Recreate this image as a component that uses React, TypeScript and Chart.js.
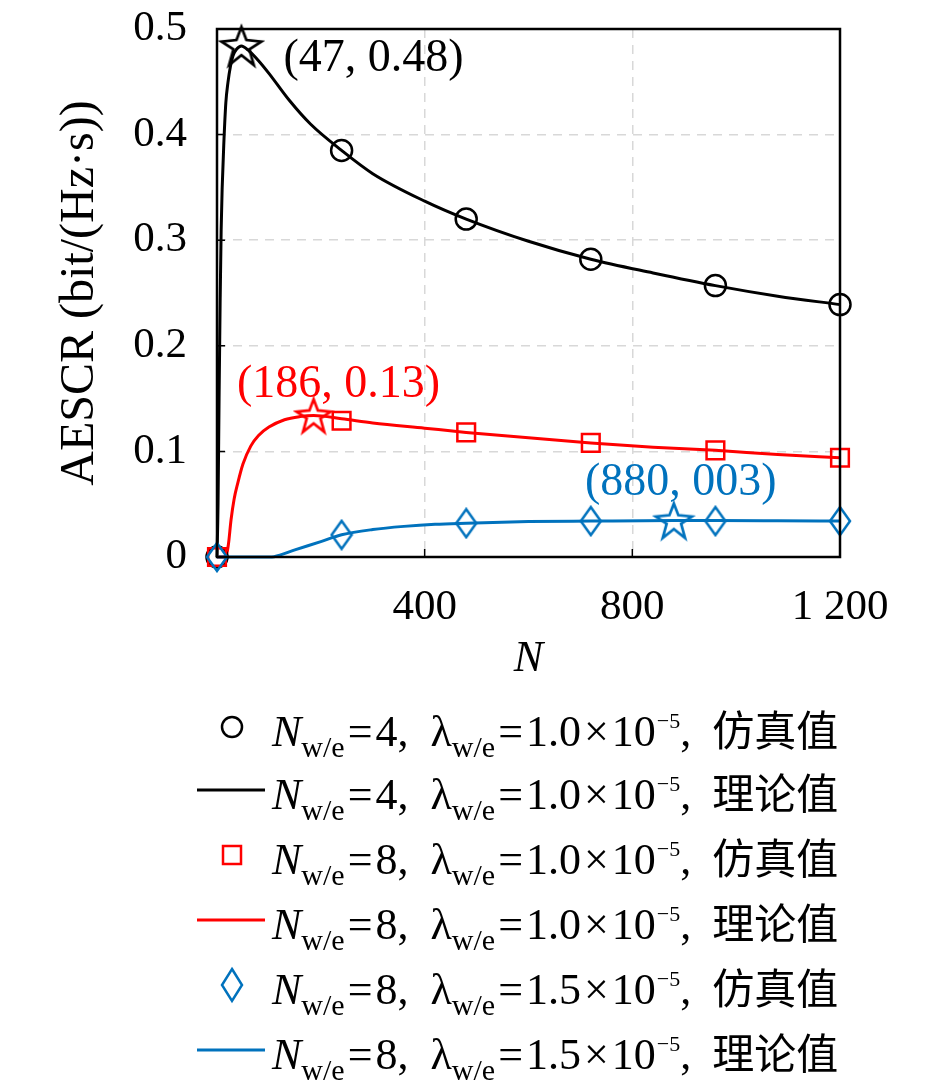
import { useEffect, useRef } from "react";
import { Chart, registerables } from "chart.js";

Chart.register(...registerables);

// simulated points (markers)
const simN = [0, 240, 480, 720, 960, 1200];
const simA = [0, 0.385, 0.32, 0.282, 0.257, 0.239];
const simB = [0, 0.129, 0.118, 0.108, 0.101, 0.094];
const simC = [0, 0.021, 0.032, 0.034, 0.034, 0.034];

// theory curves
const thAN = [0, 2, 4, 6, 8, 10, 13, 17, 21, 26, 31, 38, 47, 60, 80, 100, 140, 180, 240, 300, 400, 480, 600, 720, 840, 960, 1080, 1200];
const thA = [0, 0.05, 0.15, 0.24, 0.31, 0.35, 0.39, 0.43, 0.449, 0.465, 0.475, 0.481, 0.484, 0.48, 0.47, 0.458, 0.432, 0.41, 0.385, 0.363, 0.337, 0.32, 0.299, 0.282, 0.269, 0.257, 0.247, 0.239];
const thBN = [0, 12, 18, 22, 27, 33, 40, 50, 65, 80, 100, 130, 160, 186, 240, 300, 400, 480, 600, 720, 840, 960, 1080, 1200];
const thB = [0, 0, 0.002, 0.012, 0.035, 0.055, 0.07, 0.088, 0.105, 0.115, 0.123, 0.13, 0.133, 0.134, 0.131, 0.127, 0.122, 0.118, 0.113, 0.108, 0.104, 0.101, 0.097, 0.094];
const thCN = [0, 100, 110, 150, 200, 240, 300, 360, 420, 480, 600, 720, 880, 960, 1080, 1200];
const thC = [0, 0, 0.0003, 0.0067, 0.0146, 0.021, 0.026, 0.029, 0.031, 0.032, 0.0335, 0.034, 0.0345, 0.0345, 0.0343, 0.034];

// optimum points
const peakN = [47, 186, 880];
const peakV = [0.484, 0.134, 0.0345];
const peakLabels = ["(47, 0.48)", "(186, 0.13)", "(880, 003)"];

const xTicks = [400, 800, 1200];
const yTicks = [0.1, 0.2, 0.3, 0.4];

const BLACK = "#000000";
const RED = "#ff0000";
const BLUE = "#0072bd";
const colors = [BLACK, RED, BLUE];
const labelOffsets = [
  [42, 13, "left"],
  [25, -31, "center"],
  [7, -38, "center"],
] as const;

const FONT = '"Liberation Serif", "DejaVu Serif", serif';

const zip = (xs: number[], ys: number[]) => xs.map((x, i) => ({ x, y: ys[i] }));

function starImage(color: string, R: number) {
  const c = document.createElement("canvas");
  const s = Math.ceil(R * 2 + 6);
  c.width = s;
  c.height = s;
  const g = c.getContext("2d")!;
  g.strokeStyle = color;
  g.lineWidth = 2.7;
  g.lineJoin = "miter";
  g.beginPath();
  const r = R * 0.4;
  for (let i = 0; i < 10; i++) {
    const rad = i % 2 === 0 ? R : r;
    const a = -Math.PI / 2 + (i * Math.PI) / 5;
    const px = s / 2 + rad * Math.cos(a);
    const py = s / 2 + rad * 0.1 + rad * Math.sin(a);
    if (i === 0) g.moveTo(px, py);
    else g.lineTo(px, py);
  }
  g.closePath();
  g.stroke();
  return c;
}

function diamondImage(color: string, w: number, h: number) {
  const c = document.createElement("canvas");
  c.width = w + 4;
  c.height = h + 4;
  const g = c.getContext("2d")!;
  g.strokeStyle = color;
  g.lineWidth = 2.5;
  g.beginPath();
  g.moveTo(c.width / 2, 2);
  g.lineTo(c.width - 2, c.height / 2);
  g.lineTo(c.width / 2, c.height - 2);
  g.lineTo(2, c.height / 2);
  g.closePath();
  g.stroke();
  return c;
}

const frame = {
  id: "frame",
  afterDatasetsDraw(chart: any) {
    const { ctx, chartArea: a, scales } = chart;
    ctx.save();
    ctx.strokeStyle = BLACK;
    ctx.lineWidth = 1.5;
    ctx.beginPath();
    xTicks.slice(0, 2).forEach((v) => {
      const px = scales.x.getPixelForValue(v);
      ctx.moveTo(px, a.bottom);
      ctx.lineTo(px, a.bottom - 8);
    });
    yTicks.forEach((v) => {
      const py = scales.y.getPixelForValue(v);
      ctx.moveTo(a.left, py);
      ctx.lineTo(a.left + 8, py);
    });
    ctx.stroke();
    ctx.lineWidth = 2.5;
    ctx.strokeRect(a.left, a.top, a.right - a.left, a.bottom - a.top);
    ctx.font = `46px ${FONT}`;
    ctx.textBaseline = "middle";
    peakN.forEach((n, i) => {
      const px = scales.x.getPixelForValue(n);
      const py = scales.y.getPixelForValue(peakV[i]);
      const [dx, dy, al] = labelOffsets[i];
      ctx.fillStyle = colors[i];
      ctx.textAlign = al;
      ctx.fillText(peakLabels[i], px + dx, py + dy);
    });
    ctx.restore();
  },
};

const gridColor = "#d8d8d8";

function ChartCanvas() {
  const ref = useRef<HTMLCanvasElement | null>(null);
  useEffect(() => {
    if (!ref.current) return;
    const diamond = diamondImage(BLUE, 20, 28);
    const stars = [starImage(BLACK, 21), starImage(RED, 18), starImage(BLUE, 19)];
    const line = (xs: number[], ys: number[], color: string, order: number) => ({
      data: zip(xs, ys),
      borderColor: color,
      borderWidth: 3,
      pointRadius: 0,
      cubicInterpolationMode: "monotone",
      fill: false,
      order,
      clip: false,
    });
    const marks = (ys: number[], color: string, style: any, radius: number, order: number) => ({
      data: zip(simN, ys),
      showLine: false,
      borderColor: color,
      backgroundColor: "transparent",
      pointBackgroundColor: "transparent",
      pointBorderColor: color,
      pointBorderWidth: 2.5,
      pointStyle: style,
      pointRadius: radius,
      order,
      clip: false,
    });
    const chart = new Chart(ref.current, {
      type: "line",
      data: {
        datasets: [
          line(thAN, thA, BLACK, 6),
          line(thBN, thB, RED, 5),
          line(thCN, thC, BLUE, 4),
          marks(simA, BLACK, "circle", 10.5, 3),
          marks(simB, RED, "rect", 12.5, 2),
          marks(simC, BLUE, diamond, 12, 1),
          ...peakN.map((n, i) => ({
            data: [{ x: n, y: peakV[i] }],
            showLine: false,
            pointStyle: stars[i],
            pointRadius: 20,
            order: 0,
            clip: false,
          })),
        ] as any,
      },
      options: {
        animation: false,
        responsive: true,
        maintainAspectRatio: false,
        layout: { padding: { top: 14, right: 97, left: 0, bottom: 0 } },
        plugins: { legend: { display: false }, tooltip: { enabled: false } },
        scales: {
          x: {
            type: "linear",
            min: 0,
            max: 1200,
            afterFit: (s: any) => {
              s.height = 141;
              s.paddingLeft = 0;
              s.paddingRight = 0;
            },
            ticks: {
              stepSize: 400,
              padding: 25,
              color: BLACK,
              font: { family: FONT, size: 43 },
              callback: (v: any) => (v === 0 ? "" : v === 1200 ? "1 200" : String(v)),
            },
            grid: {
              drawTicks: false,
              lineWidth: 1.5,
              color: (c: any) => (c.tick && (c.tick.value === 0 || c.tick.value === 1200) ? "transparent" : gridColor),
            },
            border: { display: false, dash: [9, 7] },
            title: {
              display: true,
              text: "N",
              color: BLACK,
              padding: { top: 0, bottom: 12 },
              font: { family: FONT, size: 44, style: "italic" },
            },
          },
          y: {
            min: 0,
            max: 0.5,
            afterFit: (s: any) => {
              s.width = 209;
              s.paddingTop = 0;
              s.paddingBottom = 0;
            },
            ticks: {
              stepSize: 0.1,
              padding: 30,
              color: BLACK,
              font: { family: FONT, size: 43 },
              callback: (v: any) => (v === 0 ? "0" : Number(v).toFixed(1)),
            },
            grid: {
              drawTicks: false,
              lineWidth: 1.5,
              color: (c: any) => (c.tick && (c.tick.value === 0 || c.tick.value > 0.49) ? "transparent" : gridColor),
            },
            border: { display: false, dash: [9, 7] },
            title: {
              display: true,
              text: "AESCR (bit/(Hz·s))",
              color: BLACK,
              padding: { top: 44, bottom: 0 },
              font: { family: FONT, size: 48 },
            },
          },
        },
      },
      plugins: [frame],
    });
    return () => chart.destroy();
  }, []);
  return (
    <div style={{ position: "absolute", left: 0, top: 0, width: 929, height: 690 }}>
      <canvas ref={ref}></canvas>
    </div>
  );
}

type Row = { kind: "circle" | "rect" | "diamond" | "line"; color: string; n: string; lam: string; tag: string };
const legendRows: Row[] = [
  { kind: "circle", color: BLACK, n: "4", lam: "1.0", tag: "仿真值" },
  { kind: "line", color: BLACK, n: "4", lam: "1.0", tag: "理论值" },
  { kind: "rect", color: RED, n: "8", lam: "1.0", tag: "仿真值" },
  { kind: "line", color: RED, n: "8", lam: "1.0", tag: "理论值" },
  { kind: "diamond", color: BLUE, n: "8", lam: "1.5", tag: "仿真值" },
  { kind: "line", color: BLUE, n: "8", lam: "1.5", tag: "理论值" },
];
const legendY = [727, 790, 855, 920, 985, 1050];

function Marker({ kind, color }: { kind: Row["kind"]; color: string }) {
  return (
    <svg width={76} height={40} style={{ display: "block", flex: "none" }}>
      {kind === "circle" && <circle cx={36} cy={20} r={10} fill="none" stroke={color} strokeWidth={2.5} />}
      {kind === "rect" && <rect x={27} y={11} width={18} height={18} fill="none" stroke={color} strokeWidth={2.5} />}
      {kind === "diamond" && <polygon points="36,4 46,20 36,36 26,20" fill="none" stroke={color} strokeWidth={2.5} />}
      {kind === "line" && <line x1={1} y1={20} x2={69} y2={20} stroke={color} strokeWidth={3} />}
    </svg>
  );
}

const sub: React.CSSProperties = { fontSize: 30, position: "relative", top: 11 };
const sup: React.CSSProperties = { fontSize: 22, position: "relative", top: -18, marginLeft: 1 };
const op: React.CSSProperties = { margin: "0 3px" };

function Legend() {
  return (
    <>
      {legendRows.map((r, i) => (
        <div
          key={i}
          style={{
            position: "absolute",
            left: 188,
            top: legendY[i] - 8 - 32,
            height: 64,
            display: "flex",
            alignItems: "center",
            whiteSpace: "nowrap",
            fontFamily: FONT,
            fontSize: 44,
            color: "#000",
          }}
        >
          <Marker kind={r.kind} color={r.color} />
          <span>
            <i>N</i>
            <span style={sub}>w/e</span>
            <span style={op}>=</span>
            {r.n},&nbsp;&nbsp;λ<span style={sub}>w/e</span>
            <span style={op}>=</span>
            {r.lam}
            <span style={op}>×</span>10
            <span style={sup}>−5</span>,&nbsp;
            <span style={{ fontFamily: '"Noto Sans CJK SC", sans-serif', fontSize: 42, marginLeft: 10 }}>{r.tag}</span>
          </span>
        </div>
      ))}
    </>
  );
}

export default function App() {
  return (
    <div style={{ position: "relative", width: 929, height: 1081, background: "#fff" }}>
      <ChartCanvas />
      <Legend />
    </div>
  );
}
